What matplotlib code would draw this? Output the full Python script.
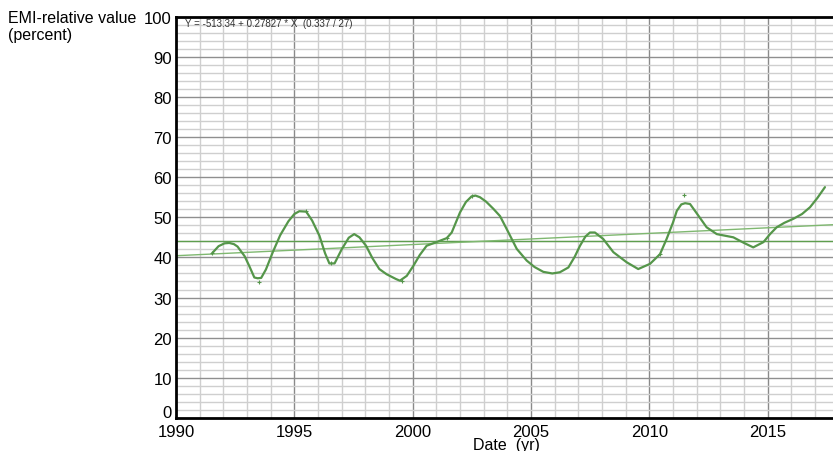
import matplotlib
matplotlib.use("Agg")
import matplotlib.pyplot as plt
import matplotlib.transforms as mtransforms
import numpy as np

plt.rcParams['font.family'] = ['Liberation Sans', 'DejaVu Sans']

# ---- data ----
years = [1991.52, 1991.8, 1992.05, 1992.25, 1992.45, 1992.6, 1992.9, 1993.1, 1993.31, 1993.45, 1993.6, 1993.8,
         1994.09, 1994.4, 1994.75, 1995.0, 1995.21, 1995.5, 1995.75, 1996.06, 1996.3, 1996.48,
         1996.7, 1997.0, 1997.3, 1997.53, 1997.75, 1998.03, 1998.3, 1998.59, 1998.9, 1999.3,
         1999.46, 1999.75, 2000.03, 2000.3, 2000.59, 2001.0, 2001.44, 2001.65, 2002.0, 2002.25,
         2002.49, 2002.65, 2002.84, 2003.1, 2003.41, 2003.69, 2003.97, 2004.4, 2004.82, 2005.15, 2005.52,
         2005.9, 2006.22, 2006.58, 2006.85, 2007.07, 2007.3, 2007.49, 2007.7, 2008.05, 2008.48,
         2009.04, 2009.53, 2010.03, 2010.45, 2010.73, 2011.0, 2011.16, 2011.35, 2011.51, 2011.72,
         2012.0, 2012.42, 2012.85, 2013.2, 2013.55, 2014.0, 2014.39, 2014.82, 2015.1, 2015.38,
         2015.7, 2016.08, 2016.45, 2016.79, 2017.1, 2017.42]
values = [41.0, 42.8, 43.5, 43.6, 43.3, 42.7, 40.3, 37.8, 35.0, 34.8, 34.9, 37.0,
          41.3, 45.5, 49.0, 50.8, 51.5, 51.4, 49.2, 45.4, 41.0, 38.5,
          38.5, 42.0, 44.9, 45.8, 45.0, 42.9, 39.8, 37.1, 35.8, 34.6,
          34.2, 35.4, 37.9, 40.6, 42.9, 43.8, 44.8, 46.2, 51.2, 53.8,
          55.2, 55.4, 55.0, 53.9, 52.1, 50.3, 47.1, 42.1, 39.2, 37.6, 36.4,
          36.0, 36.3, 37.5, 40.2, 42.9, 45.2, 46.2, 46.2, 44.6, 41.3,
          38.8, 37.1, 38.4, 40.8, 44.6, 48.7, 51.6, 53.2, 53.5, 53.3,
          51.0, 47.5, 45.8, 45.4, 45.0, 43.6, 42.5, 43.8, 45.8, 47.5,
          48.6, 49.6, 50.8, 52.5, 54.8, 57.5]
obs_years = [1991.52, 1993.52, 1995.5, 1996.55, 1999.55, 2001.44, 2002.5, 2010.45, 2011.46]
obs_values = [41.0, 33.8, 51.6, 38.6, 34.0, 44.8, 55.3, 40.8, 55.5]

trend_a = -513.34
trend_b = 0.27827
mean_value = 44.2

x_ticks = [1990, 1995, 2000, 2005, 2010, 2015]
y_ticks = [0, 10, 20, 30, 40, 50, 60, 70, 80, 90, 100]
annotation = "Y = -513.34 + 0.27827 * X  (0.337 / 27)"

# ---- figure ----
W, H = 833, 452
fig = plt.figure(figsize=(W / 100, H / 100), dpi=100)
ax = fig.add_axes([176 / W, 1 - 419 / H, (W - 176) / W, (419 - 17.5) / H])

xmin, xmax = 1990, 1990 + (W - 176) / 23.667
ax.set_xlim(xmin, xmax)
ax.set_ylim(0, 100)

# grid
for yr in range(1991, 2018):
    if yr % 5 == 0:
        ax.axvline(yr, color='#8a8a8a', lw=1.0, zorder=1)
    else:
        ax.axvline(yr, color='#cfcfcf', lw=1.0, zorder=1)
for v in range(2, 100, 2):
    if v % 10 == 0:
        ax.axhline(v, color='#8f8f8f', lw=1.0, zorder=1)
    else:
        ax.axhline(v, color='#cfcfcf', lw=1.0, zorder=1)

# mean line and trend line
ax.axhline(mean_value, color='#5e9e4e', lw=1.0, zorder=2)
tx = np.array([xmin, xmax])
ax.plot(tx, trend_a + trend_b * tx, color='#7fb870', lw=1.0, zorder=2)

# data curve
ax.plot(years, values, color='#55964a', lw=1.6, zorder=3,
        solid_joinstyle='round', solid_capstyle='round')
ax.plot(obs_years, obs_values, linestyle='none', marker='+', markersize=3,
        color='#55964a', mew=0.8, zorder=4)

# spines
for s in ['left', 'bottom', 'top']:
    ax.spines[s].set_linewidth(2.0)
    ax.spines[s].set_color('black')
ax.spines['right'].set_visible(False)

ax.set_xticks(x_ticks)
ax.set_xticklabels([str(t) for t in x_ticks])
ax.set_yticks(y_ticks)
ax.set_yticklabels([str(t) for t in y_ticks])
ax.tick_params(axis='both', length=0, labelsize=12, colors='black')
ax.tick_params(axis='x', pad=4)
ax.tick_params(axis='y', pad=3)

# raise the "0" label a little, as in the reference
zero_lbl = ax.get_yticklabels()[0]
zero_lbl.set_transform(zero_lbl.get_transform() +
                       mtransforms.ScaledTranslation(0, 5 / 72, fig.dpi_scale_trans))

ax.text(1990.4, 98.3, annotation, fontsize=7, color='#333333', va='center', ha='left', zorder=5)

fig.text(8 / W, 1 - 11 / H, "EMI-relative value\n(percent)", fontsize=11.5,
         ha='left', va='top', linespacing=1.2)
fig.text(506.7 / W, 1 - 446 / H, "Date  (yr)", fontsize=11.5, ha='center', va='center')

fig.savefig("out.png", dpi=100)
